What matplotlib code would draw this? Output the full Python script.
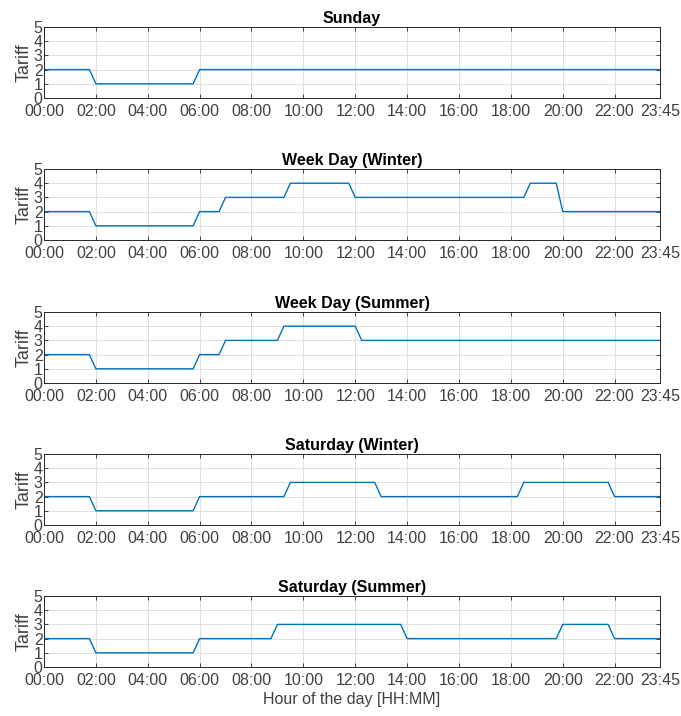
import numpy as np
import matplotlib.pyplot as plt

plt.rcParams['font.family'] = ['Liberation Sans', 'DejaVu Sans']

# 15-minute slots, 00:00 .. 23:45 (96 values per day type)
sunday = [2]*8 + [1]*16 + [2]*72
weekday_winter = [2]*8 + [1]*16 + [2]*4 + [3]*10 + [4]*10 + [3]*27 + [4]*5 + [2]*16
weekday_summer = [2]*8 + [1]*16 + [2]*4 + [3]*9 + [4]*12 + [3]*47
saturday_winter = [2]*8 + [1]*16 + [2]*14 + [3]*14 + [2]*22 + [3]*14 + [2]*8
saturday_summer = [2]*8 + [1]*16 + [2]*12 + [3]*20 + [2]*24 + [3]*8 + [2]*8

titles = ['Sunday', 'Week Day (Winter)', 'Week Day (Summer)',
          'Saturday (Winter)', 'Saturday (Summer)']
series = [sunday, weekday_winter, weekday_summer, saturday_winter, saturday_summer]

tick_pos = [0, 8, 16, 24, 32, 40, 48, 56, 64, 72, 80, 88, 95]
tick_labels = ['00:00', '02:00', '04:00', '06:00', '08:00', '10:00', '12:00',
               '14:00', '16:00', '18:00', '20:00', '22:00', '23:45']

W, H = 681, 716
fig = plt.figure(figsize=(W/100, H/100), dpi=100)

tops = [27, 169, 312, 454, 596]
left, right, height = 44, 660, 71
text_col = '#404040'

for top, title, vals in zip(tops, titles, series):
    ax = fig.add_axes([left/W, 1 - (top + height)/H, (right - left)/W, height/H])
    x = np.arange(len(vals))
    ax.plot(x, vals, color='#0072BD', linewidth=1.0)
    ax.set_xlim(0, 95)
    ax.set_ylim(0, 5)
    ax.set_yticks(range(6))
    ax.set_xticks(tick_pos)
    ax.set_xticklabels(tick_labels)
    ax.grid(True, color='#e0e0e0', linewidth=0.7)
    ax.tick_params(direction='in', length=3, width=0.6, top=True, right=True,
                   labelsize=11.5, colors='#262626', labelcolor=text_col)
    ax.tick_params(axis='x', pad=4)
    ax.tick_params(axis='y', pad=1)
    for s in ax.spines.values():
        s.set_color('#262626')
        s.set_linewidth(0.7)
    ax.set_ylabel('Tariff', fontsize=13, color=text_col, labelpad=1)
    ax.set_title(title, fontsize=11.5, fontweight='bold', color='black', pad=3)

ax.set_xlabel('Hour of the day [HH:MM]', fontsize=11.5, color=text_col, labelpad=3)

fig.savefig('out.png', dpi=100, facecolor='white')
